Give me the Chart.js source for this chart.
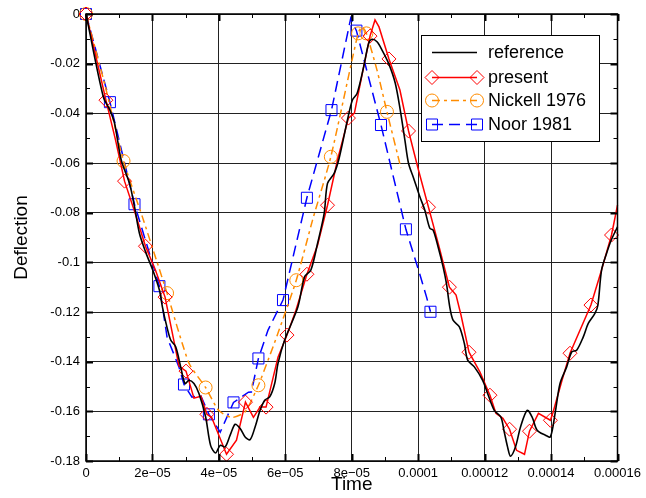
<!DOCTYPE html>
<html>
<head>
<meta charset="utf-8">
<script src="https://cdn.jsdelivr.net/npm/chart.js@4.4.1/dist/chart.umd.min.js"></script>
<style>
  html, body { margin: 0; padding: 0; background: #fff; }
  canvas { display: block; }
</style>
</head>
<body>
<canvas id="myChart" width="646" height="498"></canvas>
<script>
'use strict';

// tick values and labels
let xTickValues = [0, 2e-5, 4e-5, 6e-5, 8e-5, 10e-5, 12e-5, 14e-5, 16e-5];
let xTickLabels = ['0', '2e\u221205', '4e\u221205', '6e\u221205', '8e\u221205', '0.0001', '0.00012', '0.00014', '0.00016'];
let xMinorTicks = [1e-5, 3e-5, 5e-5, 7e-5, 9e-5, 11e-5, 13e-5, 15e-5];
let yTickValues = [-0.18, -0.16, -0.14, -0.12, -0.1, -0.08, -0.06, -0.04, -0.02, 0];
let yTickLabels = ['-0.18', '-0.16', '-0.14', '-0.12', '-0.1', '-0.08', '-0.06', '-0.04', '-0.02', '0'];
let yMinorTicks = [-0.17, -0.15, -0.13, -0.11, -0.09, -0.07, -0.05, -0.03, -0.01];

// reference (black)
let refT = [0, 0.52e-5, 0.72e-5, 0.86e-5, 1.06e-5, 1.31e-5, 1.46e-5, 1.61e-5, 1.81e-5, 2.01e-5,
  2.21e-5, 2.30e-5, 2.41e-5, 2.55e-5, 2.70e-5, 2.85e-5, 2.98e-5, 3.10e-5, 3.25e-5, 3.40e-5,
  3.60e-5, 3.75e-5, 3.90e-5, 4.04e-5, 4.19e-5, 4.34e-5, 4.49e-5, 4.64e-5, 4.79e-5, 4.94e-5,
  5.09e-5, 5.24e-5, 5.38e-5, 5.53e-5, 5.68e-5, 5.78e-5, 5.98e-5, 6.38e-5, 6.58e-5, 6.77e-5,
  6.97e-5, 7.17e-5, 7.27e-5, 7.47e-5, 7.62e-5, 7.87e-5, 8.02e-5, 8.16e-5, 8.36e-5, 8.51e-5,
  8.61e-5, 8.76e-5, 8.91e-5, 9.11e-5, 9.31e-5, 9.46e-5, 9.60e-5, 9.71e-5, 9.85e-5, 10.05e-5,
  10.20e-5, 10.35e-5, 10.45e-5, 10.60e-5, 10.75e-5, 10.85e-5, 10.95e-5, 11.05e-5, 11.24e-5, 11.39e-5,
  11.49e-5, 11.69e-5, 11.94e-5, 12.09e-5, 12.29e-5, 12.49e-5, 12.58e-5, 12.69e-5, 12.78e-5, 12.93e-5,
  13.08e-5, 13.28e-5, 13.43e-5, 13.58e-5, 13.83e-5, 13.98e-5, 14.12e-5, 14.27e-5, 14.47e-5, 14.62e-5,
  14.77e-5, 14.97e-5, 15.12e-5, 15.32e-5, 15.41e-5, 15.52e-5, 15.67e-5, 15.81e-5, 16.00e-5];
let refY = [0, -0.0333, -0.0387, -0.0440, -0.0588, -0.0682, -0.0776, -0.0884, -0.0964, -0.1031,
  -0.1112, -0.1179, -0.1246, -0.1313, -0.1340, -0.1421, -0.1488, -0.1475, -0.1488, -0.1528,
  -0.1622, -0.1737, -0.1768, -0.1737, -0.1743, -0.1696, -0.1652, -0.1669, -0.1703, -0.1714,
  -0.1663, -0.1596, -0.1555, -0.1542, -0.1488, -0.1407, -0.1313, -0.1179, -0.1058, -0.1031,
  -0.0924, -0.0803, -0.0682, -0.0642, -0.0581, -0.0427, -0.0346, -0.0320, -0.0212, -0.0118,
  -0.0102, -0.0112, -0.0145, -0.0199, -0.0279, -0.0387, -0.0508, -0.0602, -0.0656, -0.0736,
  -0.0790, -0.0863, -0.0870, -0.0938, -0.1018, -0.1085, -0.1179, -0.1233, -0.1260, -0.1327,
  -0.1394, -0.1421, -0.1475, -0.1528, -0.1596, -0.1623, -0.1676, -0.1743, -0.1781, -0.1743,
  -0.1663, -0.1596, -0.1623, -0.1676, -0.1696, -0.1703, -0.1609, -0.1488, -0.1421, -0.1361,
  -0.1354, -0.1300, -0.1246, -0.1206, -0.1172, -0.1031, -0.0964, -0.0911, -0.0857];

// present (red), presMark = 1 where a diamond is drawn
let presT = [0, 0.30e-5, 0.60e-5, 0.89e-5, 1.16e-5, 1.49e-5, 1.79e-5, 2.09e-5, 2.38e-5, 2.80e-5,
  3.01e-5, 3.25e-5, 3.46e-5, 3.64e-5, 3.78e-5, 4.23e-5, 4.53e-5, 4.80e-5, 5.04e-5, 5.24e-5,
  5.42e-5, 5.78e-5, 6.05e-5, 6.32e-5, 6.65e-5, 6.97e-5, 7.27e-5, 7.57e-5, 7.90e-5, 8.08e-5,
  8.37e-5, 8.55e-5, 8.70e-5, 8.82e-5, 9.12e-5, 9.45e-5, 9.71e-5, 10.01e-5, 10.31e-5, 10.64e-5,
  10.94e-5, 11.14e-5, 11.29e-5, 11.53e-5, 11.86e-5, 12.16e-5, 12.34e-5, 12.55e-5, 12.75e-5, 12.96e-5,
  13.20e-5, 13.35e-5, 13.62e-5, 13.98e-5, 14.06e-5, 14.33e-5, 14.57e-5, 15.20e-5, 15.52e-5, 15.82e-5,
  16.00e-5];
let presY = [0, -0.0173, -0.0347, -0.0508, -0.0673, -0.0806, -0.0935, -0.1031, -0.1140, -0.1418,
  -0.1438, -0.1547, -0.1539, -0.1612, -0.1624, -0.1773, -0.1716, -0.1563, -0.1624, -0.1583,
  -0.1583, -0.1382, -0.1293, -0.1193, -0.1048, -0.0931, -0.0770, -0.0588, -0.0419, -0.0399,
  -0.0205, -0.0089, -0.0024, -0.0052, -0.0181, -0.0306, -0.0471, -0.0629, -0.0778, -0.0943,
  -0.1100, -0.1132, -0.1213, -0.1362, -0.1442, -0.1535, -0.1608, -0.1628, -0.1672, -0.1757,
  -0.1773, -0.1680, -0.1608, -0.1636, -0.1604, -0.1475, -0.1366, -0.1172, -0.1031, -0.0890,
  -0.0770];
let presMark = [1, 0, 1, 0, 1, 0, 1, 0, 1, 0,
  1, 0, 0, 1, 0, 1, 0, 1, 0, 0,
  1, 0, 1, 0, 1, 0, 1, 0, 1, 0,
  0, 1, 0, 0, 1, 0, 1, 0, 1, 0,
  1, 0, 0, 1, 0, 1, 0, 0, 1, 0,
  0, 1, 0, 1, 0, 0, 1, 1, 0, 1,
  0];

// Nickell 1976 (orange)
let nickT = [0, 0.57e-5, 1.13e-5, 1.70e-5, 2.12e-5, 2.44e-5, 3.10e-5, 3.60e-5, 3.99e-5, 4.39e-5,
  4.79e-5, 5.19e-5, 5.48e-5, 5.78e-5, 6.33e-5, 6.82e-5, 7.37e-5, 8.19e-5, 8.31e-5, 8.44e-5,
  8.76e-5, 9.06e-5, 9.48e-5];
let nickY = [0, -0.0286, -0.0592, -0.0818, -0.0991, -0.1124, -0.1406, -0.1504, -0.1596, -0.1625,
  -0.1602, -0.1495, -0.1394, -0.1285, -0.1072, -0.0830, -0.0575, -0.0078, -0.0052, -0.0078,
  -0.0226, -0.0394, -0.0620];
let nickMark = [1, 0, 1, 0, 0, 1, 0, 1, 0, 0,
  0, 1, 0, 0, 1, 0, 1, 1, 0, 1,
  0, 1, 0];

// Noor 1981 (blue)
let noorT = [0, 0.72e-5, 1.46e-5, 2.21e-5, 2.44e-5, 2.80e-5, 2.95e-5, 3.19e-5, 3.45e-5, 3.70e-5,
  4.04e-5, 4.44e-5, 4.89e-5, 4.98e-5, 5.19e-5, 5.48e-5, 5.93e-5, 6.65e-5, 7.39e-5, 7.97e-5,
  8.14e-5, 8.88e-5, 9.63e-5, 10.04e-5, 10.25e-5, 10.37e-5];
let noorY = [0, -0.0355, -0.0766, -0.1096, -0.1301, -0.1422, -0.1492, -0.1543, -0.1535, -0.1612,
  -0.1684, -0.1564, -0.1523, -0.1522, -0.1387, -0.1273, -0.1152, -0.0740, -0.0387, -0.0017,
  -0.0067, -0.0447, -0.0867, -0.1044, -0.1139, -0.1199];
let noorMark = [1, 1, 1, 1, 0, 0, 1, 0, 0, 1,
  0, 1, 0, 0, 1, 0, 1, 1, 1, 0,
  1, 1, 1, 0, 0, 1];

const FONT = "'Liberation Sans', Arial, Helvetica, sans-serif";

function points(ts, ys) {
  let out = [];
  for (let i = 0; i < ts.length; i++) {
    out.push({ x: ts[i], y: ys[i] });
  }
  return out;
}

// frame, inward ticks and the boxed legend
const framePlugin = {
  id: 'framePlugin',
  afterDraw(chart) {
    const ctx = chart.ctx;
    const a = chart.chartArea;
    const x = chart.scales.x;
    const y = chart.scales.y;
    ctx.save();
    ctx.strokeStyle = '#000';

    function seg(x1, y1, x2, y2) {
      ctx.beginPath();
      ctx.moveTo(x1, y1);
      ctx.lineTo(x2, y2);
      ctx.stroke();
    }

    ctx.lineWidth = 1;
    for (const v of xMinorTicks) {
      const px = Math.round(x.getPixelForValue(v)) + 0.5;
      seg(px, a.bottom, px, a.bottom - 4);
      seg(px, a.top, px, a.top + 4);
    }
    for (const v of yMinorTicks) {
      const py = Math.round(y.getPixelForValue(v)) + 0.5;
      seg(a.left, py, a.left + 4, py);
      seg(a.right, py, a.right - 4, py);
    }
    ctx.lineWidth = 2;
    for (const v of xTickValues) {
      const px = Math.round(x.getPixelForValue(v)) + 0.5;
      seg(px, a.bottom, px, a.bottom - 7);
      seg(px, a.top, px, a.top + 7);
    }
    for (const v of yTickValues) {
      const py = Math.round(y.getPixelForValue(v)) + 0.5;
      seg(a.left, py, a.left + 7, py);
      seg(a.right, py, a.right - 7, py);
    }
    ctx.lineWidth = 1.5;
    ctx.strokeRect(a.left, a.top, a.right - a.left, a.bottom - a.top);

    // legend
    ctx.fillStyle = '#fff';
    ctx.fillRect(421, 35, 178, 106);
    ctx.lineWidth = 1;
    ctx.strokeStyle = '#000';
    ctx.strokeRect(421.5, 35.5, 178, 106);
    const rows = [52, 77, 100, 124];
    chart.data.datasets.forEach((ds, i) => {
      const ly = rows[i] + 0.5;
      ctx.strokeStyle = ds.borderColor;
      ctx.lineWidth = ds.borderWidth;
      ctx.setLineDash(ds.borderDash || []);
      seg(432, ly, 477, ly);
      ctx.setLineDash([]);
      ctx.lineWidth = 1;
      if (ds.pointStyle !== false) {
        [432, 477].forEach(mx => {
          ctx.beginPath();
          if (ds.pointStyle === 'rectRot') {
            ctx.moveTo(mx - 7, ly); ctx.lineTo(mx, ly - 7); ctx.lineTo(mx + 7, ly); ctx.lineTo(mx, ly + 7); ctx.closePath();
          } else if (ds.pointStyle === 'circle') {
            ctx.arc(mx, ly, 6.5, 0, Math.PI * 2);
          } else {
            ctx.rect(mx - 5.5, ly - 5.5, 11, 11);
          }
          ctx.stroke();
        });
      }
      ctx.fillStyle = '#000';
      ctx.font = '18px ' + FONT;
      ctx.textBaseline = 'middle';
      ctx.textAlign = 'left';
      ctx.fillText(ds.label, 488, rows[i] + 1);
    });
    ctx.restore();
  }
};

Chart.defaults.color = '#000';
Chart.defaults.font.family = FONT;

let ctx = document.getElementById('myChart').getContext('2d');
let myChart = new Chart(ctx, {
  type: 'line',
  data: {
    datasets: [
      {
        label: 'reference',
        data: points(refT, refY),
        borderColor: '#000000',
        borderWidth: 1.6,
        pointRadius: 0,
        pointStyle: false,
        tension: 0.3,
        clip: false
      },
      {
        label: 'present',
        data: points(presT, presY),
        borderColor: '#ff0000',
        borderWidth: 1.5,
        pointStyle: 'rectRot',
        pointRadius: presMark.map(m => (m ? 7 : 0)),
        pointBorderColor: '#ff0000',
        pointBackgroundColor: 'rgba(0,0,0,0)',
        pointBorderWidth: 1,
        tension: 0,
        clip: false
      },
      {
        label: 'Nickell 1976',
        data: points(nickT, nickY),
        borderColor: '#ff8c00',
        borderWidth: 1.5,
        borderDash: [8, 4, 3, 4],
        pointStyle: 'circle',
        pointRadius: nickMark.map(m => (m ? 6.5 : 0)),
        pointBorderColor: '#ff8c00',
        pointBackgroundColor: 'rgba(0,0,0,0)',
        pointBorderWidth: 1,
        tension: 0.2,
        clip: false
      },
      {
        label: 'Noor 1981',
        data: points(noorT, noorY),
        borderColor: '#0000ff',
        borderWidth: 1.5,
        borderDash: [11, 6],
        pointStyle: 'rect',
        pointRadius: noorMark.map(m => (m ? 7.8 : 0)),
        pointBorderColor: '#0000ff',
        pointBackgroundColor: 'rgba(0,0,0,0)',
        pointBorderWidth: 1,
        tension: 0,
        clip: false
      }
    ]
  },
  options: {
    responsive: false,
    animation: false,
    events: [],
    layout: { padding: { top: 14, right: 23, left: 0, bottom: 0 } },
    plugins: {
      legend: { display: false },
      tooltip: { enabled: false }
    },
    scales: {
      x: {
        type: 'linear',
        min: 0,
        max: 16e-5,
        afterBuildTicks: scale => { scale.ticks = xTickValues.map(v => ({ value: v })); },
        afterFit: scale => { scale.height = 37; },
        grid: { color: '#222', lineWidth: 1, drawTicks: false },
        border: { display: false },
        ticks: {
          padding: 5,
          maxRotation: 0,
          autoSkip: false,
          font: { size: 13 },
          callback: (v, i) => xTickLabels[i]
        },
        title: { display: true, text: 'Time', font: { size: 19 }, padding: { top: 2, bottom: 2 } }
      },
      y: {
        min: -0.18,
        max: 0,
        afterBuildTicks: scale => { scale.ticks = yTickValues.map(v => ({ value: v })); },
        afterFit: scale => { scale.width = 86; },
        grid: { color: '#222', lineWidth: 1, drawTicks: false },
        border: { display: false },
        ticks: {
          padding: 6,
          autoSkip: false,
          font: { size: 13 },
          callback: (v, i) => yTickLabels[i]
        },
        title: { display: true, text: 'Deflection', font: { size: 19 }, padding: { top: 10, bottom: 10 } }
      }
    }
  },
  plugins: [framePlugin]
});
</script>
</body>
</html>
